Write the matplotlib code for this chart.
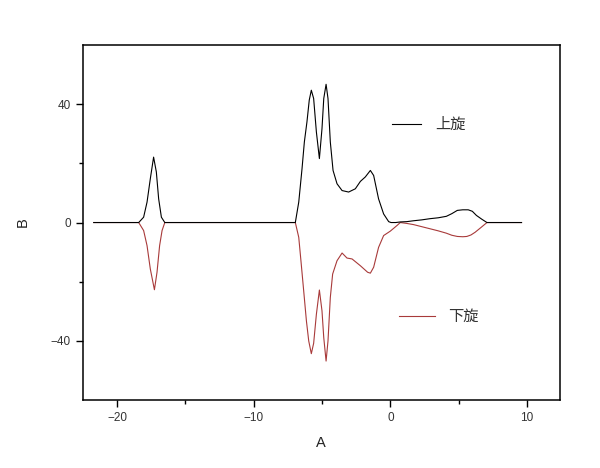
import matplotlib
matplotlib.use('Agg')
import matplotlib.pyplot as plt
from matplotlib.ticker import FixedLocator

# spin-up curve
x_up = [-21.7, -18.41, -18.05, -17.8, -17.56, -17.32, -17.12, -16.95, -16.75, -16.5,
        -6.95, -6.7, -6.46, -6.29, -6.1, -5.93, -5.78, -5.61, -5.41, -5.19,
        -5.0, -4.87, -4.7, -4.56, -4.39, -4.19, -3.9, -3.53, -3.05,
        -2.56, -2.19, -1.83, -1.46, -1.22, -0.86, -0.49, -0.12, 0.05,
        0.4, 0.73, 1.2, 1.7, 2.3, 2.9, 3.5, 4.1, 4.5, 4.9, 5.3, 5.7, 6.0,
        6.3, 6.7, 7.07, 9.6]
y_up = [0, 0, 1.8, 6.9, 14.8, 22.1, 17.1, 8.0, 1.8, 0,
        0, 6.9, 18.2, 27.2, 34, 41.4, 44.7, 41.9, 30.6, 21.6,
        31.7, 41.9, 46.7, 41.9, 27.2, 17.6, 13.1, 10.8, 10.3,
        11.4, 13.9, 15.4, 17.6, 15.9, 8.0, 2.9, 0.3, 0,
        0, 0.2, 0.3, 0.6, 0.9, 1.3, 1.6, 2.1, 3, 4.1, 4.3, 4.3, 3.8,
        2.4, 1.1, 0, 0]

# spin-down curve
x_dn = [-21.7, -18.41, -18.05, -17.8, -17.56, -17.26, -17.07, -16.88, -16.7, -16.5,
        -6.95, -6.7, -6.54, -6.34, -6.14, -5.97, -5.78, -5.61, -5.41, -5.19,
        -5.0, -4.87, -4.7, -4.56, -4.39, -4.22, -3.9, -3.53, -3.17,
        -2.8, -2.19, -1.66, -1.46, -1.22, -0.86, -0.49, 0.0, 0.49,
        0.73, 1.2, 1.7, 2.3, 2.9, 3.5, 4.1, 4.5, 4.9, 5.3, 5.6, 5.9,
        6.2, 6.6, 7.07, 9.6]
y_dn = [0, 0, -2.7, -7.8, -15.7, -22.7, -16.8, -7.8, -2.7, 0,
        0, -5, -12.9, -23, -33.2, -40, -44.3, -40.8, -31, -22.8,
        -29.8, -38.9, -46.8, -40, -25.3, -17.4, -12.9, -10.3, -12,
        -12.3, -14.6, -16.8, -17.1, -15.1, -8.4, -4.4, -2.9, -1.0,
        0, -0.3, -0.7, -1.4, -2.1, -2.8, -3.6, -4.3, -4.7, -4.8, -4.7, -4.2,
        -3.3, -1.8, 0, 0]

labels = ['上旋', '下旋']

plt.rcParams['font.family'] = ['Liberation Sans', 'Noto Sans CJK SC']

fig = plt.figure(figsize=(6, 4.68), dpi=100)
ax = fig.add_axes([0.138, 0.145, 0.795, 0.759])

red = '#a83a3a'
l_dn, = ax.plot(x_dn, y_dn, color=red, lw=0.8)
l_up, = ax.plot(x_up, y_up, color='black', lw=0.8)

ax.set_xlim(-22.5, 12.4)
ax.set_ylim(-60, 60)
ax.xaxis.set_major_locator(FixedLocator([-20, -10, 0, 10]))
ax.xaxis.set_minor_locator(FixedLocator([-15, -5, 5]))
ax.yaxis.set_major_locator(FixedLocator([-40, 0, 40]))
ax.yaxis.set_minor_locator(FixedLocator([-20, 20]))
ax.tick_params(which='major', direction='out', length=5, width=1,
               labelsize=8.5, labelcolor='#333333')
ax.tick_params(which='minor', direction='out', length=3, width=1)
for s in ax.spines.values():
    s.set_linewidth(1.1)

ax.set_xlabel('A', fontsize=10.5, color='#222222', labelpad=9)
ax.set_ylabel('B', fontsize=10.5, color='#222222', labelpad=15)

cjk = ['Noto Sans CJK SC', 'DejaVu Sans']
leg1 = ax.legend([l_up], [labels[0]], loc='center left',
                 bbox_to_anchor=(0.62, 0.775), frameon=False,
                 handlelength=1.9, handletextpad=0.9,
                 prop={'family': cjk, 'size': 11})
for t in leg1.get_texts():
    t.set_color('#333333')
ax.add_artist(leg1)
leg2 = ax.legend([l_dn], [labels[1]], loc='center left',
                 bbox_to_anchor=(0.635, 0.235), frameon=False,
                 handlelength=2.3, handletextpad=0.9,
                 prop={'family': cjk, 'size': 11})
for t in leg2.get_texts():
    t.set_color('#333333')

fig.savefig('out.png', dpi=100)
